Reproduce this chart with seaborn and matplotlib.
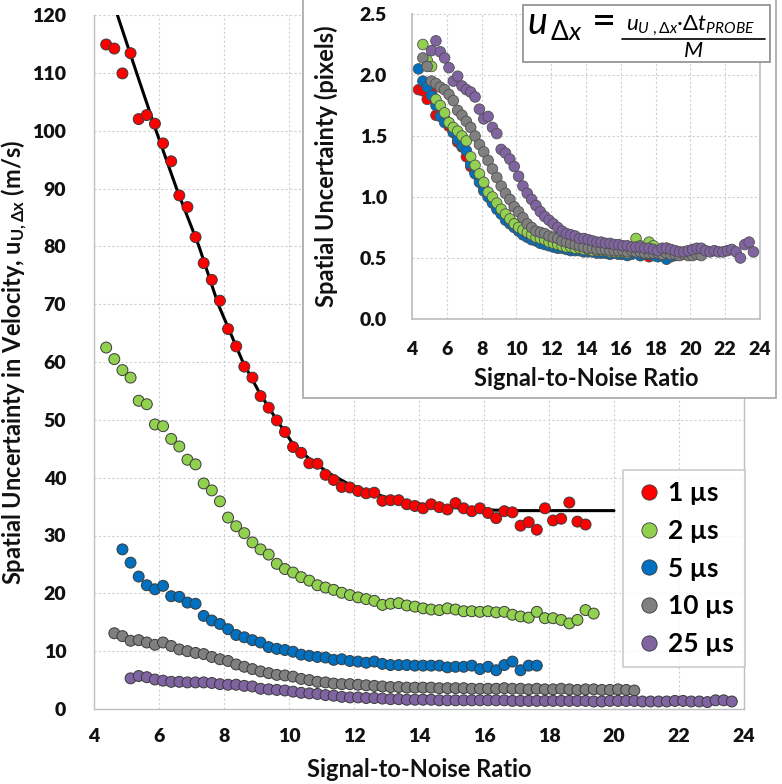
import matplotlib
matplotlib.use("Agg")
import matplotlib.pyplot as plt
from matplotlib.patches import Rectangle
from matplotlib.lines import Line2D
import seaborn as sns
import pandas as pd

# ---------------- data ----------------
snr_bins = [4.375, 4.625, 4.875, 5.125, 5.375, 5.625, 5.875, 6.125, 6.375, 6.625,
            6.875, 7.125, 7.375, 7.625, 7.875, 8.125, 8.375, 8.625, 8.875, 9.125,
            9.375, 9.625, 9.875, 10.125, 10.375, 10.625, 10.875, 11.125, 11.375, 11.625,
            11.875, 12.125, 12.375, 12.625, 12.875, 13.125, 13.375, 13.625, 13.875, 14.125,
            14.375, 14.625, 14.875, 15.125, 15.375, 15.625, 15.875, 16.125, 16.375, 16.625,
            16.875, 17.125, 17.375, 17.625, 17.875, 18.125, 18.375, 18.625, 18.875, 19.125,
            19.375, 19.625, 19.875, 20.125, 20.375, 20.625, 20.875, 21.125, 21.375, 21.625,
            21.875, 22.125, 22.375, 22.625, 22.875, 23.125, 23.375, 23.625]

series_labels = ["1 \u00b5s", "2 \u00b5s", "5 \u00b5s", "10 \u00b5s", "25 \u00b5s"]
series_colors = ["#FF0000", "#92D050", "#0070C0", "#808080", "#8064A2"]

# main chart: velocity uncertainty (m/s); first bin index of each series
main_start = [0, 0, 2, 1, 3]
u_1us = [114.9, 114.2, 109.9, 113.4, 102.0, 102.7, 101.2, 97.8, 94.7, 88.8,
         86.8, 81.6, 77.1, 74.2, 70.6, 65.7, 62.7, 59.2, 57.3, 54.1,
         52.1, 49.9, 47.9, 45.3, 44.3, 42.5, 42.4, 40.5, 39.6, 38.4,
         38.3, 37.7, 37.3, 37.4, 36.0, 36.1, 36.1, 35.4, 35.1, 34.7,
         35.4, 34.9, 34.5, 35.6, 34.7, 34.2, 34.7, 33.9, 33.0, 34.2,
         34.0, 31.7, 32.3, 31.0, 34.7, 32.6, 32.9, 35.7, 32.4, 31.9]
u_2us = [62.5, 60.5, 58.6, 57.3, 53.3, 52.7, 49.2, 48.9, 46.7, 45.4,
         43.1, 42.3, 39.0, 37.8, 35.9, 33.1, 31.6, 30.4, 28.8, 27.6,
         26.7, 25.1, 24.2, 23.6, 22.8, 22.2, 21.4, 21.0, 20.6, 20.1,
         19.7, 19.3, 19.0, 18.7, 18.0, 18.2, 18.3, 17.9, 17.7, 17.4,
         17.2, 17.1, 17.4, 17.2, 16.9, 16.9, 16.8, 16.9, 16.7, 16.8,
         16.3, 16.0, 15.8, 16.8, 15.7, 15.7, 15.4, 14.8, 15.4, 17.1,
         16.5]
u_5us = [27.6, 25.3, 22.9, 21.4, 20.7, 21.3, 19.5, 19.4, 18.4, 18.2,
         16.1, 15.3, 14.7, 13.8, 12.8, 12.4, 11.9, 11.5, 10.7, 10.4,
         10.2, 9.9, 9.4, 9.2, 9.0, 8.9, 8.5, 8.6, 8.3, 8.2,
         8.0, 8.2, 7.8, 7.6, 7.6, 7.6, 7.5, 7.5, 7.5, 7.5,
         7.2, 7.3, 7.3, 7.5, 6.9, 7.3, 6.7, 7.6, 8.2, 6.7,
         7.5, 7.5]
u_10us = [13.1, 12.6, 11.8, 11.9, 11.5, 11.1, 11.5, 10.9, 10.3, 10.0,
          9.7, 9.5, 9.0, 8.6, 8.3, 7.7, 7.3, 6.9, 6.5, 6.2,
          5.9, 5.8, 5.6, 5.2, 5.0, 4.7, 4.6, 4.4, 4.3, 4.3,
          4.2, 4.1, 4.0, 3.9, 3.8, 3.8, 3.7, 3.7, 3.7, 3.7,
          3.6, 3.6, 3.6, 3.6, 3.5, 3.5, 3.5, 3.5, 3.6, 3.5,
          3.5, 3.4, 3.5, 3.4, 3.4, 3.5, 3.4, 3.3, 3.4, 3.4,
          3.3, 3.3, 3.4, 3.3, 3.2]
u_25us = [5.3, 5.7, 5.5, 5.1, 4.9, 4.7, 4.7, 4.6, 4.6, 4.6,
          4.5, 4.3, 4.2, 4.2, 4.0, 3.9, 3.5, 3.4, 3.3, 3.2,
          3.0, 2.8, 2.7, 2.6, 2.4, 2.3, 2.1, 2.0, 2.0, 1.9,
          1.9, 1.8, 1.7, 1.7, 1.6, 1.6, 1.6, 1.6, 1.5, 1.5,
          1.5, 1.5, 1.5, 1.5, 1.5, 1.5, 1.5, 1.4, 1.4, 1.4,
          1.4, 1.4, 1.4, 1.4, 1.4, 1.4, 1.4, 1.3, 1.3, 1.4,
          1.4, 1.4, 1.4, 1.3, 1.3, 1.3, 1.3, 1.4, 1.4, 1.3,
          1.3, 1.2, 1.5, 1.5, 1.3]

# fitted curve through the 1 us data
fit_snr = [4.72, 5.31, 5.91, 6.54, 7.23, 7.82, 8.58, 9.10, 9.62, 10.15,
           10.70, 11.25, 11.80, 12.40, 13.00, 13.70, 14.50, 15.30, 16.20, 17.00, 20.00]
fit_u = [120.0, 110.0, 100.0, 90.0, 80.0, 70.0, 60.0, 54.6, 50.0, 45.6,
         42.9, 40.7, 39.0, 37.6, 36.6, 35.7, 35.1, 34.7, 34.4, 34.3, 34.3]

# inset: spatial uncertainty (pixels); first bin index of each series
inset_start = [0, 1, 0, 1, 3]
px_1us = [1.88, 1.87, 1.80, 1.85, 1.67, 1.68, 1.64, 1.58, 1.53, 1.45,
          1.41, 1.33, 1.25, 1.20, 1.15, 1.07, 1.02, 0.96, 0.93, 0.88,
          0.85, 0.81, 0.78, 0.74, 0.72, 0.69, 0.69, 0.67, 0.66, 0.64,
          0.63, 0.62, 0.61, 0.61, 0.59, 0.59, 0.59, 0.58, 0.57, 0.57,
          0.58, 0.57, 0.56, 0.58, 0.57, 0.56, 0.57, 0.55, 0.54, 0.56,
          0.55, 0.52, 0.53, 0.51, 0.57, 0.53, 0.54, 0.58, 0.53, 0.52]
px_2us = [2.25, 2.12, 2.07, 1.80, 1.75, 1.69, 1.61, 1.57, 1.54, 1.50,
          1.46, 1.33, 1.26, 1.19, 1.12, 1.04, 1.00, 0.95, 0.90, 0.86,
          0.82, 0.78, 0.75, 0.73, 0.71, 0.69, 0.67, 0.66, 0.65, 0.63,
          0.62, 0.61, 0.60, 0.59, 0.59, 0.58, 0.58, 0.57, 0.57, 0.56,
          0.56, 0.56, 0.56, 0.55, 0.55, 0.55, 0.55, 0.54, 0.56, 0.66,
          0.60, 0.58, 0.63, 0.60]
px_5us = [2.05, 1.95, 1.90, 1.83, 1.75, 1.66, 1.61, 1.60, 1.53, 1.47,
          1.42, 1.38, 1.27, 1.19, 1.12, 1.05, 1.00, 0.95, 0.90, 0.86,
          0.81, 0.78, 0.75, 0.72, 0.69, 0.67, 0.65, 0.64, 0.62, 0.61,
          0.60, 0.59, 0.58, 0.58, 0.57, 0.56, 0.56, 0.56, 0.55, 0.55,
          0.55, 0.54, 0.54, 0.54, 0.53, 0.54, 0.53, 0.53, 0.52, 0.53,
          0.55, 0.52, 0.53, 0.53, 0.52, 0.51, 0.52, 0.49, 0.51]
px_10us = [2.14, 2.07, 1.95, 1.93, 1.90, 1.88, 1.84, 1.79, 1.71, 1.67,
           1.62, 1.57, 1.50, 1.43, 1.37, 1.30, 1.23, 1.16, 1.09, 1.03,
           0.98, 0.92, 0.88, 0.83, 0.78, 0.75, 0.72, 0.71, 0.70, 0.68,
           0.67, 0.66, 0.64, 0.63, 0.62, 0.61, 0.60, 0.59, 0.58, 0.58,
           0.57, 0.57, 0.57, 0.56, 0.56, 0.56, 0.56, 0.55, 0.56, 0.55,
           0.55, 0.54, 0.54, 0.54, 0.54, 0.53, 0.54, 0.53, 0.53, 0.52,
           0.53, 0.52, 0.52, 0.53, 0.52]
px_25us = [2.20, 2.28, 2.19, 2.14, 2.06, 1.95, 1.99, 1.91, 1.88, 1.86,
           1.82, 1.72, 1.64, 1.66, 1.57, 1.52, 1.39, 1.36, 1.31, 1.25,
           1.17, 1.09, 1.03, 0.98, 0.93, 0.88, 0.84, 0.81, 0.78, 0.75,
           0.72, 0.70, 0.69, 0.68, 0.66, 0.66, 0.65, 0.64, 0.63, 0.63,
           0.62, 0.62, 0.61, 0.61, 0.60, 0.60, 0.59, 0.59, 0.59, 0.58,
           0.58, 0.57, 0.56, 0.58, 0.58, 0.57, 0.56, 0.55, 0.55, 0.56,
           0.57, 0.58, 0.58, 0.56, 0.55, 0.56, 0.55, 0.55, 0.56, 0.57,
           0.55, 0.50, 0.61, 0.63, 0.55]

main_values = [u_1us, u_2us, u_5us, u_10us, u_25us]
inset_values = [px_1us, px_2us, px_5us, px_10us, px_25us]
inset_draw_order = [0, 2, 1, 3, 4]  # red, blue, green, gray, purple (last on top)


def long_frame(values, starts, order, ycol):
    frames = []
    for i in order:
        vals = values[i]
        s = starts[i]
        frames.append(pd.DataFrame({"snr": snr_bins[s:s + len(vals)],
                                    ycol: vals,
                                    "series": series_labels[i]}))
    return pd.concat(frames, ignore_index=True)


df_main = long_frame(main_values, main_start, range(5), "u")
df_inset = long_frame(inset_values, inset_start, inset_draw_order, "px")
df_fit = pd.DataFrame({"snr": fit_snr, "u": fit_u})
palette = dict(zip(series_labels, series_colors))

# ---------------- style ----------------
sns.set_theme(style="white")
plt.rcParams["font.family"] = ["Lato", "DejaVu Sans"]
plt.rcParams["font.weight"] = "bold"
plt.rcParams["mathtext.fontset"] = "custom"
plt.rcParams["mathtext.rm"] = "Lato:normal"
plt.rcParams["mathtext.it"] = "Lato:italic:normal"
plt.rcParams["mathtext.bf"] = "Lato:bold"
plt.rcParams["mathtext.fallback"] = "stixsans"

GRID = dict(color="#D0D0D0", linestyle=(0, (2, 2)), linewidth=0.8)
AXCOL = "#BFBFBF"
TXT = "#111111"
TICK_FS = 14
LABEL_FS = 17

fig = plt.figure(figsize=(7.82, 7.84), dpi=100)
fig.patch.set_facecolor("white")


def fx(px):
    return px / 782


def fy(py):
    return 1 - py / 784


# ---------------- main axes ----------------
ax = fig.add_axes([fx(94), fy(709), 650 / 782, 694 / 784])
ax.set_xlim(4, 24)
ax.set_ylim(0, 120)
ax.set_xticks(range(4, 25, 2))
ax.set_yticks(range(0, 121, 10))
ax.grid(True, **GRID)
ax.set_axisbelow(True)

sns.lineplot(data=df_fit, x="snr", y="u", ax=ax, color="black", linewidth=2.2,
             sort=False, estimator=None, zorder=2, legend=False)
sns.scatterplot(data=df_main, x="snr", y="u", hue="series", palette=palette,
                s=62, edgecolor="#3A3A3A", linewidth=0.7, ax=ax, zorder=3,
                legend=False)

ax.spines["top"].set_visible(False)
for side in ["left", "bottom", "right"]:
    ax.spines[side].set_color(AXCOL)
    ax.spines[side].set_linewidth(1.0)
ax.tick_params(axis="x", which="major", direction="out", length=6, width=1,
               color=AXCOL, labelsize=TICK_FS, labelcolor=TXT, pad=8)
ax.tick_params(axis="y", which="major", direction="out", length=7, width=1,
               color=AXCOL, labelsize=TICK_FS, labelcolor=TXT, pad=13)
for lab in ax.get_xticklabels() + ax.get_yticklabels():
    lab.set_fontweight("heavy")

ax.set_xlabel("Signal-to-Noise Ratio", fontsize=LABEL_FS, fontweight="bold",
              color=TXT, labelpad=9)
ax.set_ylabel(r"Spatial Uncertainty in Velocity, u$_{\mathbf{U,\Delta x}}$ (m/s)",
              fontsize=LABEL_FS, fontweight="bold", color=TXT, labelpad=2)

# legend
handles = [Line2D([], [], linestyle="none", marker="o", markersize=11,
                  markerfacecolor=c, markeredgecolor="#3A3A3A", markeredgewidth=0.6)
           for c in series_colors]
leg = ax.legend(handles, series_labels, loc="upper left",
                bbox_to_anchor=((623 - 94) / 650, (709 - 470) / 694),
                borderaxespad=0, frameon=True, fancybox=False,
                labelspacing=0.52, handletextpad=0.2, handlelength=1.1,
                borderpad=0.42, prop={"weight": "bold", "size": 19})
leg.get_frame().set_edgecolor("#BFBFBF")
leg.get_frame().set_linewidth(1.2)
for t in leg.get_texts():
    t.set_color("black")

# ---------------- inset frame ----------------
frame = Rectangle((fx(303), fy(398)), (776 - 303) / 782, 398 / 784 + 0.01,
                  transform=fig.transFigure, facecolor="white", edgecolor="#A6A6A6",
                  linewidth=1.2, zorder=1)
fig.add_artist(frame)

# ---------------- inset axes ----------------
axi = fig.add_axes([fx(412), fy(319), 348 / 782, 305 / 784])
axi.set_zorder(2)
axi.set_xlim(4, 24)
axi.set_ylim(0, 2.5)
axi.set_xticks(range(4, 25, 2))
axi.set_yticks([0.0, 0.5, 1.0, 1.5, 2.0, 2.5])
axi.set_yticklabels(["0.0", "0.5", "1.0", "1.5", "2.0", "2.5"])
axi.grid(True, **GRID)
axi.set_axisbelow(True)
sns.scatterplot(data=df_inset, x="snr", y="px", hue="series", palette=palette,
                s=58, edgecolor="#505050", linewidth=0.6, ax=axi, zorder=3,
                legend=False)
axi.spines["top"].set_visible(False)
for side in ["left", "bottom", "right"]:
    axi.spines[side].set_color(AXCOL)
axi.tick_params(axis="x", which="major", direction="out", length=5, width=1,
                color=AXCOL, labelsize=TICK_FS, labelcolor=TXT, pad=11)
axi.tick_params(axis="y", which="major", direction="out", length=5, width=1,
                color=AXCOL, labelsize=TICK_FS, labelcolor=TXT, pad=13)
for lab in axi.get_xticklabels() + axi.get_yticklabels():
    lab.set_fontweight("heavy")
axi.set_xlabel("Signal-to-Noise Ratio", fontsize=LABEL_FS, fontweight="bold",
               color=TXT, labelpad=6)
axi.set_ylabel("Spatial Uncertainty (pixels)", fontsize=LABEL_FS, fontweight="bold",
               color=TXT, labelpad=16)

# ---------------- formula box ----------------
fbox = Rectangle((fx(523), fy(62)), 247 / 782, 57 / 784,
                 transform=fig.transFigure, facecolor="white", edgecolor="#8C8C8C",
                 linewidth=1.2, zorder=3)
fig.add_artist(fbox)
fig.text(fx(527), fy(34), r"$u_{\,\Delta x}$", ha="left", va="baseline",
         fontsize=27, color="black", zorder=4)
fig.text(fx(604), fy(34), "=", ha="center", va="baseline", fontsize=30,
         color="black", zorder=4, fontweight="normal")
fig.text(fx(690), fy(31), "$u_{U\\ ,\\Delta x}\u00b7\\Delta t_{PROBE}$",
         ha="center", va="baseline", fontsize=16, color="black", zorder=4)
fig.add_artist(Line2D([fx(622), fx(765)], [fy(39), fy(39)], transform=fig.transFigure,
                      color="black", linewidth=1.2, zorder=4))
fig.text(fx(693), fy(57), "$M$", ha="center", va="baseline", fontsize=16,
         color="black", zorder=4)

fig.savefig("out.png", dpi=100)
